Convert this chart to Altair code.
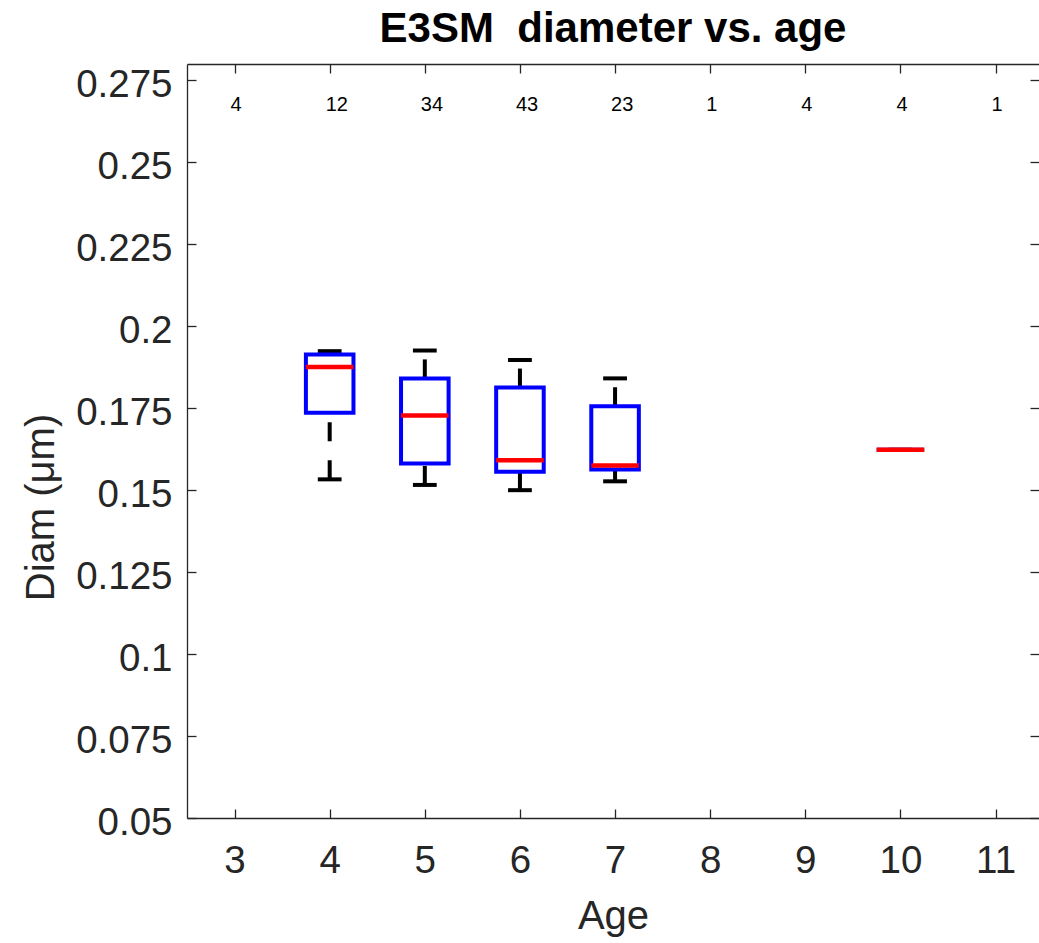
import altair as alt
import pandas as pd

# ---- data ----
ages_all = [3, 4, 5, 6, 7, 8, 9, 10, 11]
counts = [4, 12, 34, 43, 23, 1, 4, 4, 1]

box_ages = [4, 5, 6, 7, 10]
upper = [0.1924, 0.1926, 0.1897, 0.1841, 0.1623]
q3 = [0.1914, 0.1841, 0.1813, 0.1756, 0.1623]
median = [0.1876, 0.1728, 0.1591, 0.1575, 0.1623]
q1 = [0.1736, 0.1581, 0.1556, 0.1563, 0.1623]
lower = [0.1533, 0.1516, 0.1500, 0.1527, 0.1623]

count_label_y = 0.2656
y_ticks = [0.05, 0.075, 0.1, 0.125, 0.15, 0.175, 0.2, 0.225, 0.25, 0.275]

box_df = pd.DataFrame(dict(age=box_ages, upper=upper, q3=q3, median=median, q1=q1, lower=lower))
cnt_df = pd.DataFrame(dict(age=ages_all, n=counts))
cnt_df["ly"] = count_label_y

FONT = "Liberation Sans"
GRAY = "#262626"
W, H = 852, 754
PX_PER_AGE = 95.125

xs = alt.Scale(domain=[2.5, 2.5 + W / PX_PER_AGE], nice=False, zero=False)
ys = alt.Scale(domain=[0.05, 0.28], nice=False, zero=False)

tick_common = dict(tickSize=9, tickColor=GRAY, tickWidth=1.3, labels=False, domain=False,
                   grid=False, title="")

ax_bottom = alt.Axis(orient="bottom", values=ages_all, format="d", ticks=False, tickSize=0,
                     domain=True, domainColor=GRAY, domainWidth=1.3, grid=False,
                     labelFont=FONT, labelFontSize=38.5, labelColor=GRAY,
                     labelBaseline="alphabetic", labelPadding=54, labelFlush=False,
                     labelOverlap=False,
                     title="Age", titleFont=FONT, titleFontSize=40, titleFontWeight="normal",
                     titleColor=GRAY, titleX=426, titleY=110, titleBaseline="alphabetic",
                     titleAlign="center")
# top frame line with inward ticks
ax_top_in = alt.Axis(orient="bottom", offset=-H, values=ages_all, tickSize=9, tickColor=GRAY,
                     tickWidth=1.3, labels=False, domain=True, domainColor=GRAY,
                     domainWidth=1.3, grid=False, title="")
# bottom inward ticks
ax_bottom_in = alt.Axis(orient="top", offset=-H, values=ages_all, **tick_common)

ax_left = alt.Axis(orient="left", values=y_ticks,
                   labelExpr="format(datum.value, '.3~f')", ticks=False, tickSize=0,
                   domain=True, domainColor=GRAY, domainWidth=1.3, grid=False,
                   labelFont=FONT, labelFontSize=38.5, labelColor=GRAY,
                   labelBaseline="alphabetic", labelOffset=16, labelPadding=15,
                   labelFlush=False, labelOverlap=False,
                   title="Diam (μm)", titleFont=FONT, titleFontSize=40,
                   titleFontWeight="normal", titleColor=GRAY, titleX=-134, titleY=443,
                   titleAngle=270, titleBaseline="alphabetic", titleAlign="center")
# left inward ticks
ax_left_in = alt.Axis(orient="right", offset=-W, values=y_ticks, **tick_common)
# right inward ticks
ax_right_in = alt.Axis(orient="left", offset=-W, values=y_ticks, **tick_common)

base = alt.Chart(box_df)

whisk_lo = base.mark_rule(color="black", strokeWidth=4, strokeDash=[19, 19], strokeCap="butt").encode(
    x=alt.X("age:Q", scale=xs, axis=ax_bottom),
    y=alt.Y("lower:Q", scale=ys, axis=ax_left),
    y2="q1:Q",
)
whisk_hi = base.mark_rule(color="black", strokeWidth=4, strokeDash=[19, 19], strokeCap="butt").encode(
    x=alt.X("age:Q", scale=xs, axis=ax_top_in),
    y=alt.Y("q3:Q", scale=ys, axis=ax_left_in),
    y2="upper:Q",
)
caps_lo = base.transform_calculate(
    xa="datum.age - 0.125", xb="datum.age + 0.125"
).mark_rule(color="black", strokeWidth=4, strokeCap="butt").encode(
    x=alt.X("xa:Q", scale=xs, axis=ax_bottom_in),
    x2="xb:Q",
    y=alt.Y("lower:Q", scale=ys, axis=ax_right_in),
)
caps_hi = base.transform_calculate(
    xa="datum.age - 0.125", xb="datum.age + 0.125"
).mark_rule(color="black", strokeWidth=4, strokeCap="butt").encode(
    x=alt.X("xa:Q", scale=xs, axis=None),
    x2="xb:Q",
    y=alt.Y("upper:Q", scale=ys, axis=None),
)
box = base.transform_calculate(
    xa="datum.age - 0.25", xb="datum.age + 0.25"
).mark_rect(fill="white", fillOpacity=0, stroke="#0000ff", strokeWidth=4).encode(
    x=alt.X("xa:Q", scale=xs, axis=None),
    x2="xb:Q",
    y=alt.Y("q1:Q", scale=ys, axis=None),
    y2="q3:Q",
)
med = base.transform_calculate(
    xa="datum.age - 0.25", xb="datum.age + 0.25"
).mark_rule(color="#ff0000", strokeWidth=4.5, strokeCap="butt").encode(
    x=alt.X("xa:Q", scale=xs, axis=None),
    x2="xb:Q",
    y=alt.Y("median:Q", scale=ys, axis=None),
)
labels = alt.Chart(cnt_df).mark_text(
    align="left", dx=-4, baseline="alphabetic", font=FONT, fontSize=20, color="black"
).encode(
    x=alt.X("age:Q", scale=xs, axis=None),
    y=alt.Y("ly:Q", scale=ys, axis=None),
    text="n:Q",
)

chart = alt.layer(whisk_lo, whisk_hi, caps_lo, caps_hi, box, med, labels).resolve_axis(
    x="independent", y="independent"
).properties(
    width=W,
    height=H,
    padding={"left": 187, "top": 64, "right": 0, "bottom": 125},
    autosize=alt.AutoSizeParams(type="none"),
    title=alt.TitleParams(text="E3SM\u00a0 diameter vs. age", font=FONT, fontSize=42,
                          fontWeight="bold", color="black", anchor="middle",
                          baseline="alphabetic", offset=20, dy=41, frame="group"),
).configure_view(strokeWidth=0)

chart.save("out.html", embed_options={"renderer": "svg", "actions": False})
